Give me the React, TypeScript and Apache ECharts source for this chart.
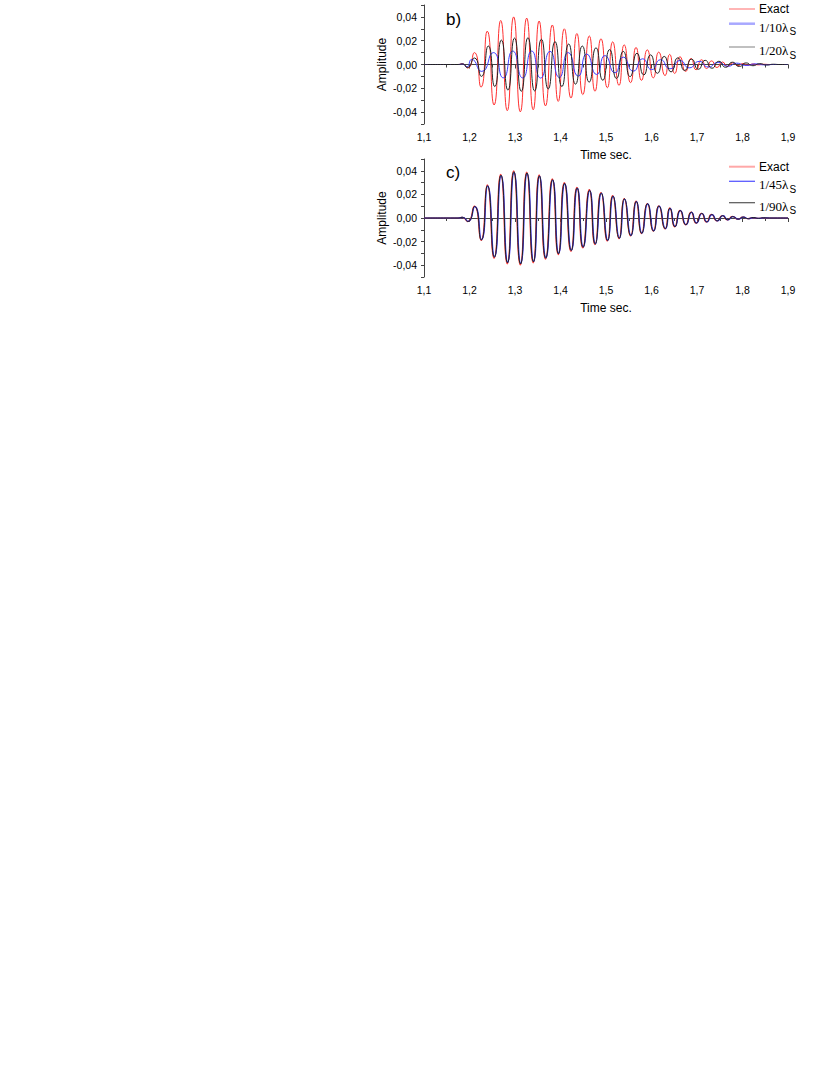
import React, { useEffect, useRef } from "react";
import * as echarts from "echarts";

// ---- Data (time s, amplitude): extrema of each trace ----
const exact: [number, number][] = [
  [1.10, 0], [1.175, 0], [1.184, 0.0006], [1.196, -0.003], [1.2106, 0.0100], [1.2253, -0.0190],
  [1.239, 0.0280], [1.254, -0.0340], [1.2686, 0.0370], [1.283, -0.0388], [1.297, 0.0400],
  [1.3117, -0.0398], [1.3257, 0.0390], [1.340, -0.0380], [1.353, 0.0365], [1.367, -0.0348],
  [1.382, 0.0332], [1.395, -0.0310], [1.4084, 0.0300], [1.423, -0.0282], [1.436, 0.0260],
  [1.449, -0.0253], [1.4633, 0.0240], [1.4758, -0.0225], [1.489, 0.0216], [1.503, -0.0195],
  [1.5147, 0.0190], [1.5286, -0.0175], [1.540, 0.0165], [1.554, -0.0152], [1.566, 0.0143],
  [1.578, -0.0133], [1.5908, 0.0123], [1.604, -0.0112], [1.616, 0.0104], [1.6297, -0.0093],
  [1.640, 0.0085], [1.651, -0.0075], [1.6626, 0.0065], [1.675, -0.0058], [1.687, 0.0050],
  [1.698, -0.0044], [1.710, 0.0040], [1.721, -0.0034], [1.732, 0.0030], [1.744, -0.0025],
  [1.756, 0.0021], [1.767, -0.0017], [1.778, 0.0013], [1.790, -0.0010], [1.801, 0.0008],
  [1.812, -0.0006], [1.823, 0.0004], [1.835, -0.0003], [1.846, 0.0002], [1.86, 0], [1.90, 0],
];

const b_10: [number, number][] = [
  [1.10, 0], [1.175, 0], [1.185, 0.0004], [1.194, -0.0020], [1.2048, 0.0042], [1.2268, -0.0058],
  [1.2524, 0.0100], [1.2743, -0.0112], [1.295, 0.0113], [1.317, -0.0113], [1.3366, 0.0113],
  [1.3564, -0.0114], [1.377, 0.0110], [1.3974, -0.0108], [1.417, 0.0100], [1.439, -0.0098],
  [1.4575, 0.0088], [1.4795, -0.0084], [1.4978, 0.0075], [1.5198, -0.0070], [1.538, 0.0062],
  [1.560, -0.0056], [1.5806, 0.0048], [1.6004, -0.0043], [1.620, 0.0040], [1.6406, -0.0036],
  [1.6626, 0.0033], [1.683, -0.0028], [1.705, 0.0026], [1.7248, -0.0021], [1.7468, 0.0017],
  [1.769, -0.0014], [1.787, 0.0011], [1.808, -0.0008], [1.828, 0.0005], [1.848, -0.0003],
  [1.87, 0], [1.90, 0],
];

const b_20: [number, number][] = [
  [1.10, 0], [1.175, 0], [1.185, 0.0005], [1.195, -0.0025], [1.2106, 0.0055], [1.226, -0.0100],
  [1.2413, 0.0155], [1.2555, -0.0185], [1.270, 0.0205], [1.2845, -0.0215], [1.299, 0.0222],
  [1.3138, -0.0225], [1.3285, 0.0225], [1.3432, -0.0222], [1.358, 0.0212], [1.373, -0.0205],
  [1.388, 0.0192], [1.403, -0.0185], [1.418, 0.0172], [1.433, -0.0165], [1.448, 0.0155],
  [1.463, -0.0148], [1.478, 0.0140], [1.493, -0.0132], [1.508, 0.0125], [1.523, -0.0117],
  [1.538, 0.0110], [1.553, -0.0102], [1.568, 0.0095], [1.583, -0.0088], [1.598, 0.0081],
  [1.613, -0.0074], [1.628, 0.0068], [1.643, -0.0062], [1.658, 0.0056], [1.673, -0.0050],
  [1.688, 0.0045], [1.703, -0.0040], [1.718, 0.0035], [1.733, -0.0031], [1.748, 0.0027],
  [1.763, -0.0023], [1.778, 0.0019], [1.793, -0.0016], [1.808, 0.0013], [1.823, -0.0010],
  [1.838, 0.0007], [1.853, -0.0004], [1.868, 0.0002], [1.88, 0], [1.90, 0],
];

const c_45: [number, number][] = [
  [1.10, 0], [1.175, 0], [1.185, 0.0006], [1.197, -0.0029], [1.2118, 0.0096], [1.2265, -0.0183],
  [1.2402, 0.0270], [1.2552, -0.0328], [1.2698, 0.0357], [1.2842, -0.0374], [1.2982, 0.0386],
  [1.3129, -0.0384], [1.3269, 0.0376], [1.3412, -0.0367], [1.3542, 0.0352], [1.3682, -0.0336],
  [1.3832, 0.0320], [1.3962, -0.0299], [1.4096, 0.0289], [1.4242, -0.0272], [1.4372, 0.0251],
  [1.4502, -0.0244], [1.4645, 0.0231], [1.4770, -0.0217], [1.4902, 0.0208], [1.5042, -0.0188],
  [1.5159, 0.0183], [1.5298, -0.0169], [1.5412, 0.0159], [1.5552, -0.0147], [1.5672, 0.0138],
  [1.5792, -0.0128], [1.5920, 0.0119], [1.6052, -0.0108], [1.6172, 0.0100], [1.6309, -0.0090],
  [1.6412, 0.0082], [1.6522, -0.0072], [1.6638, 0.0063], [1.6762, -0.0056], [1.6882, 0.0048],
  [1.6992, -0.0042], [1.7112, 0.0038], [1.7222, -0.0033], [1.7332, 0.0029], [1.7452, -0.0024],
  [1.7572, 0.0020], [1.7682, -0.0016], [1.7792, 0.0012], [1.7912, -0.0010], [1.8022, 0.0008],
  [1.8132, -0.0006], [1.8242, 0.0004], [1.8362, -0.0003], [1.8472, 0.0002], [1.86, 0], [1.90, 0],
];

const c_90: [number, number][] = [
  [1.10, 0], [1.175, 0], [1.184, 0.0006], [1.1965, -0.0030], [1.2111, 0.0098], [1.2258, -0.0186],
  [1.2395, 0.0274], [1.2545, -0.0333], [1.2691, 0.0363], [1.2835, -0.0380], [1.2975, 0.0392],
  [1.3122, -0.0390], [1.3262, 0.0382], [1.3405, -0.0372], [1.3535, 0.0358], [1.3675, -0.0341],
  [1.3825, 0.0325], [1.3955, -0.0304], [1.4089, 0.0294], [1.4235, -0.0276], [1.4365, 0.0255],
  [1.4495, -0.0248], [1.4638, 0.0235], [1.4763, -0.0221], [1.4895, 0.0212], [1.5035, -0.0191],
  [1.5152, 0.0186], [1.5291, -0.0172], [1.5405, 0.0162], [1.5545, -0.0149], [1.5665, 0.0140],
  [1.5785, -0.0130], [1.5913, 0.0121], [1.6045, -0.0110], [1.6165, 0.0102], [1.6302, -0.0091],
  [1.6405, 0.0083], [1.6515, -0.0074], [1.6631, 0.0064], [1.6755, -0.0057], [1.6875, 0.0049],
  [1.6985, -0.0043], [1.7105, 0.0039], [1.7215, -0.0033], [1.7325, 0.0029], [1.7445, -0.0024],
  [1.7565, 0.0020], [1.7675, -0.0016], [1.7785, 0.0012], [1.7905, -0.0010], [1.8015, 0.0008],
  [1.8125, -0.0006], [1.8235, 0.0004], [1.8355, -0.0003], [1.8465, 0.0002], [1.86, 0], [1.90, 0],
];

const xRange = [1.1, 1.9];
const yRange = [-0.05, 0.05];
const panelLabels = ["b)", "c)"];
const legendB = ["Exact", "1/10λS", "1/20λS"];
const legendC = ["Exact", "1/45λS", "1/90λS"];

const SANS = "'Liberation Sans', Arial, sans-serif";
const SERIF = "'Liberation Serif', 'Times New Roman', serif";

function xAxis(gridIndex: number) {
  return {
    type: "value",
    gridIndex,
    min: xRange[0],
    max: xRange[1],
    interval: 0.1,
    name: "Time sec.",
    nameLocation: "middle",
    nameGap: 25,
    nameTextStyle: { fontFamily: SANS, fontSize: 12, color: "#000" },
    axisLine: { show: true, lineStyle: { color: "#444", width: 1 } },
    axisTick: { show: true, length: 4, lineStyle: { color: "#444" } },
    minorTick: { show: true, splitNumber: 2, length: 3, lineStyle: { color: "#444" } },
    splitLine: { show: false },
    axisLabel: {
      margin: 7,
      fontFamily: SANS,
      fontSize: 10.5,
      color: "#000",
      formatter: (v: number) => v.toFixed(1).replace(".", ","),
    },
  };
}

function yAxis(gridIndex: number) {
  return {
    type: "value",
    gridIndex,
    min: yRange[0],
    max: yRange[1],
    interval: 0.01,
    name: "Amplitude",
    nameLocation: "middle",
    nameGap: 36,
    nameTextStyle: { fontFamily: SANS, fontSize: 12, color: "#000" },
    axisLine: { show: true, onZero: false, lineStyle: { color: "#444", width: 1 } },
    axisTick: { show: true, length: 3, lineStyle: { color: "#444" } },
    splitLine: { show: false },
    axisLabel: {
      margin: 7,
      fontFamily: SANS,
      fontSize: 10.5,
      color: "#000",
      showMinLabel: true,
      showMaxLabel: true,
      formatter: (v: number) => {
        const r = Math.round(v * 100);
        if (Math.abs(r) % 2 !== 0) return "";
        if (r === 0) return "0,00";
        return (r / 100).toFixed(2).replace(".", ",");
      },
    },
  };
}

function line(name: string, data: [number, number][], idx: number, color: string, width = 1) {
  return {
    type: "line",
    name,
    xAxisIndex: idx,
    yAxisIndex: idx,
    data,
    smooth: 0.64,
    symbol: "none",
    showSymbol: false,
    lineStyle: { color, width },
    itemStyle: { color },
  };
}

const richText = {
  e: { fontFamily: SANS, fontSize: 12, lineHeight: 14, color: "#000" },
  n: { fontFamily: SERIF, fontSize: 13, lineHeight: 14, color: "#000", padding: [4, 0, 2, 0], verticalAlign: "top" },
  s: { fontFamily: SANS, fontSize: 10, lineHeight: 10, color: "#000", padding: [10, 0, 0, 1], verticalAlign: "top" },
};

function legendItem(name: string, top: number, color: string, width: number) {
  return {
    show: true,
    left: 729,
    top,
    padding: 0,
    icon: "rect",
    itemWidth: 26,
    itemHeight: width,
    itemGap: 0,
    selectedMode: false,
    data: [{ name, itemStyle: { color, borderWidth: 0 } }],
    formatter: (n: string) =>
      n === "Exact" ? "{e|Exact}" : `{n|${n.replace(/λS$/, "λ")}}{s|S}`,
    textStyle: { rich: richText, padding: [0, 0, 0, -1] },
  };
}

export default function App() {
  const ref = useRef<HTMLDivElement>(null);
  useEffect(() => {
    if (!ref.current) return;
    const chart = echarts.init(ref.current, undefined, { renderer: "svg" });
    chart.setOption({
      animation: false,
      backgroundColor: "#fff",
      grid: [
        { left: 424, width: 364, top: 5, height: 119 },
        { left: 424, width: 364, top: 159, height: 118 },
      ],
      xAxis: [xAxis(0), xAxis(1)],
      yAxis: [yAxis(0), yAxis(1)],
      legend: [
        legendItem(legendB[0], 3, "#ff6a6a", 1),
        legendItem(legendB[1], 16.7, "#a8a8ff", 2.5),
        legendItem(legendB[2], 40, "#808080", 1),
        legendItem(legendC[0], 160.7, "#ffa8a8", 2),
        legendItem(legendC[1], 174.3, "#5a5aff", 1.3),
        legendItem(legendC[2], 195.7, "#555555", 1.2),
      ],
      graphic: [
        { type: "text", left: 446, top: 11, style: { text: panelLabels[0], font: `17px ${SANS}`, fill: "#000" } },
        { type: "text", left: 446, top: 164, style: { text: panelLabels[1], font: `17px ${SANS}`, fill: "#000" } },
      ],
      series: [
        line(legendB[0], exact, 0, "#ff3030", 1),
        line(legendB[1], b_10, 0, "#3c3cff", 1),
        line(legendB[2], b_20, 0, "#222222", 1),
        line(legendC[0], exact, 1, "#ff3030", 1.2),
        line(legendC[1], c_45, 1, "#3c3cff", 1.2),
        line(legendC[2], c_90, 1, "#222222", 1),
      ],
    });
    return () => chart.dispose();
  }, []);
  return (
    <div
      ref={ref}
      style={{ position: "fixed", left: 0, top: 0, width: 830, height: 1075, background: "#fff" }}
    />
  );
}
